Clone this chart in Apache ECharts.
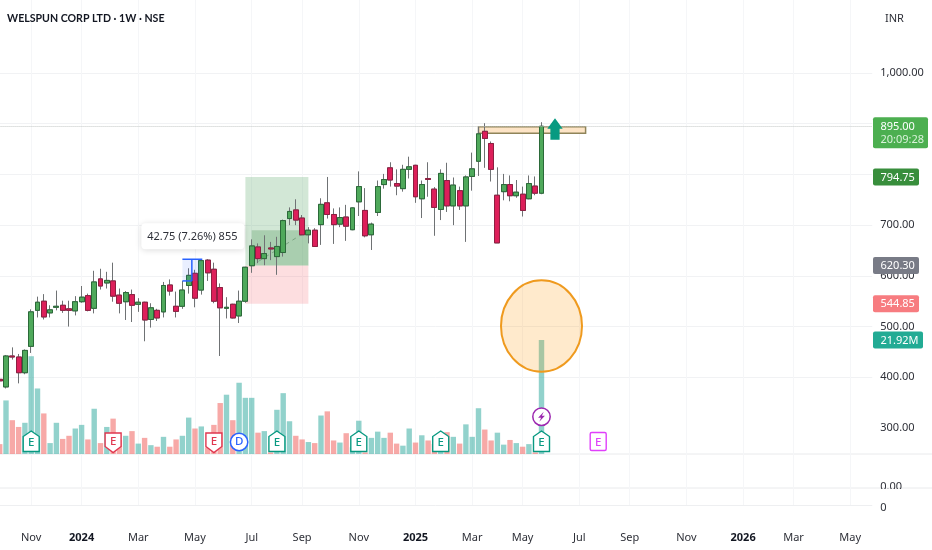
<!DOCTYPE html>
<html><head><meta charset="utf-8">
<script src="https://cdn.jsdelivr.net/npm/echarts@6/dist/echarts.min.js"></script>
<style>html,body{margin:0;padding:0;background:#fff}#c{width:932px;height:550px}</style>
</head><body><div id="c"></div>
<script>
const opens=[396,381,442,440,409,461,532,550,527,538,
542,535,531,549,561,536,594,586,590,562,
549,563,544,548,514,532,529,582,540,540,
581,605,572,631,613,577,536,544,521,550,
620,657,634,655,638,646,713,730,714,681,
690,701,744,721,702,716,691,746,729,681,
725,780,813,782,772,810,818,752,792,771,
731,788,738,768,738,796,826,885,861,759,
766,780,758,761,752,777,763];
const closes=[393,442,440,409,453,529,548,519,533,540,
532,532,549,558,532,588,580,591,560,546,
567,542,548,513,537,517,581,570,530,572,
601,556,630,606,550,537,538,517,550,617,
659,634,644,653,658,709,727,710,681,690,
658,741,721,701,715,698,734,776,679,702,
776,790,789,777,810,815,756,780,790,735,
802,738,779,738,795,811,880,871,810,665,
780,758,765,729,782,763,895];
const lows=[392,378,435,388,406,448,518,514,518,532,
527,500,522,547,530,526,573,575,549,526,
513,509,529,471,498,511,518,561,518,535,
565,538,563,590,546,442,516,516,507,547,
606,625,621,631,602,638,700,700,680,664,
657,661,713,663,696,669,690,718,676,651,
718,772,776,759,766,792,744,714,756,679,
710,726,700,730,667,768,797,813,786,665,
749,747,754,717,751,759,761];
const highs=[397,444,459,446,455,534,559,564,542,571,
551,551,560,580,565,610,614,608,626,575,
570,573,556,549,546,535,588,593,569,590,
615,612,633,633,626,585,558,545,571,618,
672,664,680,667,677,711,735,751,720,696,
694,753,795,733,735,740,735,806,773,705,
788,801,824,810,819,835,819,788,824,775,
810,823,794,776,798,843,894,901,865,814,
801,798,789,776,798,796,903];
const volumes=[1.9,10.3,6.5,5.2,6.0,18.8,12.6,7.8,2.1,6.0,
2.9,3.5,4.9,5.6,2.8,8.7,2.1,5.2,6.8,2.7,
3.5,4.4,2.0,3.1,1.7,1.4,3.3,1.4,2.8,3.5,
7.0,4.9,5.3,1.3,5.6,9.8,11.4,6.5,13.7,10.8,
10.8,4.1,4.4,0.3,8.5,11.7,6.3,3.5,2.8,2.3,
2.1,7.4,8.2,2.6,2.2,4.0,1.3,6.4,0.3,3.1,
4.3,3.1,4.1,2.0,1.6,4.9,2.2,3.6,2.6,1.9,
2.6,4.2,3.3,2.0,5.7,3.3,8.8,4.7,2.6,4.1,
1.8,2.7,2.1,1.4,1.9,0.3,21.92];
const volumeUpExceptions=[79];
const categories=[];
for(let i=0;i<139;i++){categories.push(new Date(Date.UTC(2023,9,2+7*i)).toISOString().slice(0,10));}
const tickIndex=[5,13,22,31,40,48,57,66,75,83,92,100,109,118,126,135];
const tickLabels=['Nov','2024','Mar','May','Jul','Sep','Nov','2025','Mar','May','Jul','Sep','Nov','2026','Mar','May'];
const yearLabels=['2024','2025','2026'];
const priceTicks=[300,400,500,600,700,800,900,1000];
const lastPrice=895.00, targetPrice=794.75, entryPrice=620.30, stopPrice=544.85, lastVolume=21.92;
const eventRows=[[5,'earnUp'],[18,'earnDown'],[34,'earnDown'],[38,'div'],[44,'earnUp'],[57,'earnUp'],[70,'earnUp'],[86,'earnUp'],[95,'earnNext']];

const LEFT=-3.45, WIDTH=875.7;
const FONT='"Noto Sans"';
const FS=11;
const tickMap={}; tickIndex.forEach((t,k)=>tickMap[categories[t]]=tickLabels[k]);
const GREEN='#089981', RED='#e0364f', BLUE='#2962ff', PURPLE='#9c27b0', PINK='#e040fb';

const G={left:LEFT,width:WIDTH,outerBoundsMode:'none'};
const grids=[
 Object.assign({},G,{top:0,height:505}),
 Object.assign({},G,{top:73,height:355}),
 Object.assign({},G,{top:340,height:114}),
 Object.assign({},G,{top:488,height:17}),
 Object.assign({},G,{top:454,height:33}),
 {left:-3,right:-3,top:454,height:34,outerBoundsMode:'none',show:true,borderColor:'#e9eaec',borderWidth:1,backgroundColor:'transparent'},
 Object.assign({},G,{top:491,height:17})
];
const hiddenX=g=>({type:'category',gridIndex:g,data:categories,show:false});
const hiddenY=g=>({type:'value',gridIndex:g,show:false,min:0,max:1});
const labelStyle={color:'#2e3038',fontFamily:FONT,fontSize:FS};

const xAxis=[
 {type:'category',gridIndex:0,data:categories,axisLine:{show:false},axisTick:{show:false},axisLabel:{show:false},
  splitLine:{show:true,alignWithLabel:true,interval:(i,v)=>v in tickMap,lineStyle:{color:'#f5f6f8'}}},
 hiddenX(1),hiddenX(2),
 {type:'category',gridIndex:3,data:categories,axisLine:{show:false},axisTick:{show:false},splitLine:{show:false},
  axisLabel:{show:true,margin:27,interval:(i,v)=>v in tickMap,hideOverlap:false,color:'#2e3038',fontFamily:FONT,fontSize:FS,
   formatter:v=>{const t=tickMap[v];if(!t)return '';return yearLabels.includes(t)?'{b|'+t+'}':t;},
   rich:{b:{fontFamily:FONT,fontSize:FS,fontWeight:'bold',color:'#131722'}}}},
 hiddenX(4),hiddenX(5),hiddenX(6)
];
const yAxis=[
 hiddenY(0),
 {type:'value',gridIndex:1,position:'right',min:priceTicks[0],max:priceTicks[priceTicks.length-1],interval:100,
  axisLine:{show:false},axisTick:{show:false},
  splitLine:{show:true,showMinLine:false,lineStyle:{color:'#f1f2f4'}},
  axisLabel:Object.assign({margin:8,showMaxLabel:true,showMinLabel:true,
   formatter:v=>v.toLocaleString('en-US',{minimumFractionDigits:2,maximumFractionDigits:2})},labelStyle)},
 {type:'value',gridIndex:2,show:false,min:0,max:lastVolume},
 {type:'value',gridIndex:3,position:'right',min:0,max:1,interval:1,axisLine:{show:false},axisTick:{show:false},axisLabel:{show:false},
  splitLine:{show:true,showMaxLine:false,showMinLine:true,lineStyle:{color:'#eeeff1'}}},
 {type:'value',gridIndex:4,position:'right',min:0,max:1,interval:1,axisLine:{show:false},axisTick:{show:false},splitLine:{show:false},
  axisLabel:Object.assign({margin:8,formatter:v=>v===0?'0.00':''},labelStyle)},
 hiddenY(5),
 {type:'value',gridIndex:6,position:'right',min:0,max:1,interval:1,axisLine:{show:false},axisTick:{show:false},splitLine:{show:false},
  axisLabel:Object.assign({margin:8,formatter:v=>v===0?'0':''},labelStyle)}
];

const candleFull=opens.map((o,i)=>[o,closes[i],lows[i],highs[i]]);
const candleBody=opens.map((o,i)=>[o,closes[i],Math.min(o,closes[i]),Math.max(o,closes[i])]);
const volumeData=volumes.map((v,i)=>{
 const up=closes[i]>=opens[i]||volumeUpExceptions.includes(i);
 return {value:v,itemStyle:{color:up?'rgba(38,166,154,.5)':'rgba(239,83,80,.5)'}};
});

/* drawn objects, anchored to [week index, price] */
const positionBoxes=[[39,49,targetPrice,entryPrice,'rgba(76,160,90,.25)'],[39,49,entryPrice,stopPrice,'rgba(245,90,100,.20)'],[40,49,690,entryPrice,'rgba(60,140,70,.27)']];
function rectBetween(api,a,b,style){
 const p=api.coord(a),q=api.coord(b);
 return {type:'rect',shape:{x:p[0],y:p[1],width:q[0]-p[0],height:q[1]-p[1]},style};
}
const belowSeries={type:'custom',name:'position',xAxisIndex:1,yAxisIndex:1,z:1,silent:true,data:[[39,700]],
 renderItem:(params,api)=>{
  const ch=positionBoxes.map(b=>rectBetween(api,[b[0],b[2]],[b[1],b[3]],{fill:b[4]}));
  const a=api.coord([40,entryPrice]),b=api.coord([49,690]);
  ch.push({type:'line',shape:{x1:a[0],y1:a[1],x2:b[0],y2:b[1]},style:{stroke:'rgba(80,130,90,.55)',lineWidth:1,lineDash:[4,4]}});
  ch.push(rectBetween(api,[76,894],[93,881],{fill:'#fde4c6',stroke:'#8f8459',lineWidth:1.5}));
  return {type:'group',children:ch};
 }};
const measureSeries={type:'custom',name:'measure',xAxisIndex:1,yAxisIndex:1,z:4,silent:true,data:[[30,632.75]],
 renderItem:(params,api)=>{
  const tl=api.coord([29,632.75]),br=api.coord([32,590]);
  const vx=(tl[0]+br[0])/2;
  const st={stroke:BLUE,lineWidth:1.5};
  return {type:'group',children:[
   {type:'rect',shape:{x:tl[0],y:tl[1],width:br[0]-tl[0],height:br[1]-tl[1]},style:{fill:'rgba(41,98,255,.10)'}},
   {type:'line',shape:{x1:tl[0],y1:tl[1],x2:br[0]+1,y2:tl[1]},style:st},
   {type:'line',shape:{x1:vx,y1:tl[1],x2:vx,y2:br[1]},style:st},
   {type:'line',shape:{x1:tl[0],y1:br[1],x2:vx,y2:br[1]},style:st},
   {type:'rect',shape:{x:vx-50.5,y:tl[1]-36,width:103,height:26,r:4},style:{fill:'#fff',shadowBlur:6,shadowColor:'rgba(0,0,0,.14)',shadowOffsetY:1}},
   {type:'text',style:{text:'42.75 (7.26%) 855',x:vx+0.5,y:tl[1]-22.5,align:'center',verticalAlign:'middle',fill:'#2e3038',font:FS+'px '+FONT}}
  ]};
 }};
const arrowSeries={type:'custom',name:'arrow',xAxisIndex:1,yAxisIndex:1,z:5,silent:true,data:[[88,890]],
 renderItem:(params,api)=>{
  const c=api.coord([88,890]);const x=c[0]+0.9,y=c[1];
  return {type:'polygon',shape:{points:[[x,y-10.5],[x+7.7,y],[x+4.6,y],[x+4.6,y+11],[x-4.6,y+11],[x-4.6,y],[x-7.7,y]]},style:{fill:'#089a81'}};
 }};
const ellipseSeries={type:'custom',name:'highlight',xAxisIndex:1,yAxisIndex:1,z:6,silent:true,data:[[86,501]],
 renderItem:(params,api)=>{
  const c=api.coord([86,501]);
  return {type:'ellipse',shape:{cx:c[0],cy:c[1],rx:40.5,ry:45.7},style:{fill:'rgba(255,152,0,.20)',stroke:'#ef9a1e',lineWidth:2}};
 }};
function badge(kind,x,base){
 const top=base-23,bot=base-2.5;
 const label=(t,c,y)=>({type:'text',z2:2,style:{text:t,x:x,y:y,align:'center',verticalAlign:'middle',fill:c,font:'500 11.5px '+FONT}});
 if(kind==='earnUp') return [{type:'polygon',shape:{points:[[x,top],[x+8,top+5.5],[x+8,bot],[x-8,bot],[x-8,top+5.5]]},style:{fill:'#fff',stroke:GREEN,lineWidth:1.4}},label('E',GREEN,base-11.5)];
 if(kind==='earnDown') return [{type:'polygon',shape:{points:[[x-8,top+2],[x+8,top+2],[x+8,bot-5],[x,bot+1],[x-8,bot-5]]},style:{fill:'#fff',stroke:RED,lineWidth:1.4}},label('E',RED,base-12)];
 if(kind==='earnNext') return [{type:'rect',shape:{x:x-8,y:top+1.5,width:16,height:18,r:1.5},style:{fill:'#fff',stroke:PINK,lineWidth:1.4}},label('E',PINK,base-11.5)];
 return [{type:'circle',shape:{cx:x,cy:base-12,r:8.7},style:{fill:'#fff',stroke:BLUE,lineWidth:1.5}},label('D',BLUE,base-12)];
}
const eventSeries={type:'custom',name:'events',xAxisIndex:2,yAxisIndex:2,z:7,silent:true,
 data:eventRows.map(r=>[r[0],0]),
 renderItem:(params,api)=>{
  const r=eventRows[params.dataIndex];const c=api.coord([r[0],0]);
  const ch=badge(r[1],c[0],c[1]);
  if(r[0]===86){
   const x=c[0],y=c[1]-37.3;
   ch.push({type:'circle',shape:{cx:x,cy:y,r:8.7},style:{fill:'#fff',stroke:PURPLE,lineWidth:1.5}});
   ch.push({type:'polygon',z2:2,shape:{points:[[x+2.2,y-5],[x-3.4,y+1],[x-0.4,y+1],[x-2.2,y+5],[x+3.4,y-1],[x+0.4,y-1]]},style:{fill:PURPLE}});
  }
  return {type:'group',children:ch};
 }};
const priceTags=[
 {v:lastPrice,t:lastPrice.toFixed(2),sub:'20:09:28',c:'#4caf50',w:55},
 {v:targetPrice,t:targetPrice.toFixed(2),c:'#388e3c',w:46},
 {v:entryPrice,t:entryPrice.toFixed(2),c:'#787b86',w:46},
 {v:stopPrice,t:stopPrice.toFixed(2),c:'#f77c80',w:46}
];
function tagEls(y,t){
 const h=t.sub?31:17, top=t.sub?y-9:y-8.5;
 const ch=[{type:'rect',shape:{x:873,y:top,width:t.w,height:h,r:2},style:{fill:t.c}},
  {type:'text',style:{text:t.t,x:880.5,y:y+0.5,verticalAlign:'middle',fill:'#fff',font:FS+'px '+FONT}}];
 if(t.sub) ch.push({type:'text',style:{text:t.sub,x:880.5,y:y+14,verticalAlign:'middle',fill:'#d9f2da',font:FS+'px '+FONT}});
 return ch;
}
const tagSeries={type:'custom',name:'priceTags',xAxisIndex:1,yAxisIndex:1,z:20,silent:true,
 data:priceTags.map(t=>[0,t.v]),
 renderItem:(params,api)=>{const t=priceTags[params.dataIndex];return {type:'group',children:tagEls(api.coord([0,t.v])[1],t)};}};
const volTagSeries={type:'custom',name:'volumeTag',xAxisIndex:2,yAxisIndex:2,z:20,silent:true,
 data:[[0,lastVolume]],
 renderItem:(params,api)=>({type:'group',children:tagEls(api.coord([0,lastVolume])[1],{t:lastVolume.toFixed(2)+'M',c:'#22ab94',w:50})})};

const chart=echarts.init(document.getElementById('c'),null,{renderer:'canvas'});
chart.setOption({
 animation:false,backgroundColor:'#fff',
 title:[
  {text:'WELSPUN CORP LTD · 1W · NSE',left:2,top:8,textStyle:{fontFamily:'Lato',fontSize:10.6,fontWeight:'bold',color:'#131722'}},
  {text:'INR',left:880,top:8,textStyle:{fontFamily:FONT,fontSize:FS,fontWeight:'normal',color:'#2e3038'}}
 ],
 grid:grids,xAxis,yAxis,
 graphic:[{type:'rect',z:100,silent:true,shape:{x:875,y:489,width:57,height:5},style:{fill:'#fff'}}],
 series:[
  belowSeries,
  {type:'bar',name:'Volume',xAxisIndex:2,yAxisIndex:2,z:2,barWidth:5.4,data:volumeData,silent:true},
  {type:'candlestick',name:'wicks',xAxisIndex:1,yAxisIndex:1,z:3,barWidth:5.4,silent:true,data:candleFull,
   itemStyle:{color:'#6f7274',color0:'#6f7274',borderColor:'#6f7274',borderColor0:'#6f7274',borderWidth:1}},
  {type:'candlestick',name:'WELSPUN CORP LTD',xAxisIndex:1,yAxisIndex:1,z:3,barWidth:5.4,silent:true,data:candleBody,
   itemStyle:{color:'#4fa95b',color0:'#dd1f5a',borderColor:'#2b6a39',borderColor0:'#8e1f41',borderWidth:1},
   markLine:{silent:true,symbol:'none',label:{show:false},lineStyle:{type:'dotted',color:'#c4c8c6',width:1},data:[{yAxis:lastPrice}]}},
  measureSeries,arrowSeries,ellipseSeries,eventSeries,tagSeries,volTagSeries
 ]
});
</script></body></html>
